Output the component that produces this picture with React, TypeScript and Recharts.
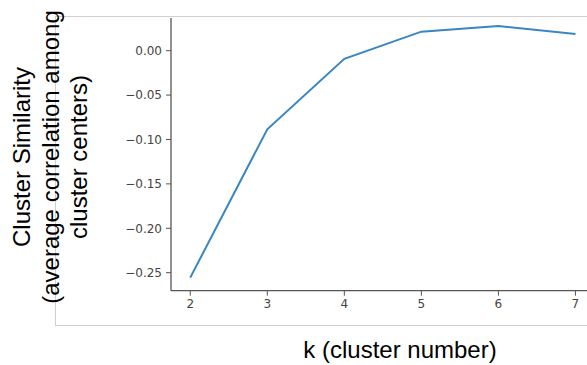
import React from "react";
import { LineChart, Line, XAxis, YAxis, Label } from "recharts";

const kValues = [2, 3, 4, 5, 6, 7];
const similarity = [-0.2556, -0.0885, -0.0091, 0.0214, 0.0278, 0.0188];
const xTicks = [2, 3, 4, 5, 6, 7];
const yTicks = [0, -0.05, -0.1, -0.15, -0.2, -0.25];
const yLabelLines = ["Cluster Similarity", "(average correlation among", "cluster centers)"];
const xLabelText = "k (cluster number)";

const data = kValues.map((k, i) => ({ k, v: similarity[i] }));

const fmtY = (v: number) => {
  const s = Math.abs(v).toFixed(2);
  return v < -1e-9 ? "\u2212" + s : s;
};

const YLabel = () => {
  const cx = 30;
  const cy = 157;
  return (
    <text
      transform={`rotate(-90, ${cx}, ${cy})`}
      x={cx}
      y={cy}
      textAnchor="middle"
      fontFamily="'Liberation Sans', Arial, sans-serif"
      fontSize={24}
      fill="#000"
    >
      {yLabelLines.map((t, i) => (
        <tspan key={i} x={cx} dy={i === 0 ? 0 : 28.5}>
          {t}
        </tspan>
      ))}
    </text>
  );
};

const XLabel = () => (
  <text
    x={400}
    y={358}
    textAnchor="middle"
    fontFamily="'Liberation Sans', Arial, sans-serif"
    fontSize={24}
    fill="#000"
  >
    {xLabelText}
  </text>
);

export default function App() {
  return (
    <div style={{ position: "absolute", left: 0, top: 0, width: 587, height: 365, background: "#fff" }}>
      <div
        style={{
          position: "absolute",
          left: 55,
          top: 16,
          width: 540,
          height: 308,
          borderTop: "1px solid #cfcfcf",
          borderLeft: "1px solid #cfcfcf",
          borderBottom: "1px solid #cfcfcf",
        }}
      />
      <div style={{ position: "absolute", left: 0, top: 0 }}>
        <LineChart width={587} height={365} data={data} margin={{ top: 18, right: 0, bottom: 0, left: 0 }}>
          <XAxis
            dataKey="k"
            type="number"
            domain={[1.75, 7.15]}
            ticks={xTicks}
            allowDataOverflow
            height={74.3}
            tickSize={5}
            tickMargin={4}
            stroke="#555"
            tick={{ fill: "#444", fontSize: 12, fontFamily: "'DejaVu Sans', sans-serif" }}
            axisLine={{ stroke: "#555", strokeWidth: 1.3 }}
            tickLine={{ stroke: "#555" }}
          >
            <Label content={<XLabel />} />
          </XAxis>
          <YAxis
            type="number"
            domain={[-0.2703, 0.0368]}
            ticks={yTicks}
            allowDataOverflow
            width={171}
            tickSize={5}
            tickMargin={4}
            tickFormatter={fmtY}
            stroke="#555"
            tick={{ fill: "#444", fontSize: 12, fontFamily: "'DejaVu Sans', sans-serif" }}
            axisLine={{ stroke: "#555", strokeWidth: 1.3 }}
            tickLine={{ stroke: "#555" }}
          >
            <Label content={<YLabel />} />
          </YAxis>
          <Line
            dataKey="v"
            type="linear"
            stroke="#3a86c3"
            strokeWidth={2}
            dot={false}
            isAnimationActive={false}
          />
        </LineChart>
      </div>
    </div>
  );
}
